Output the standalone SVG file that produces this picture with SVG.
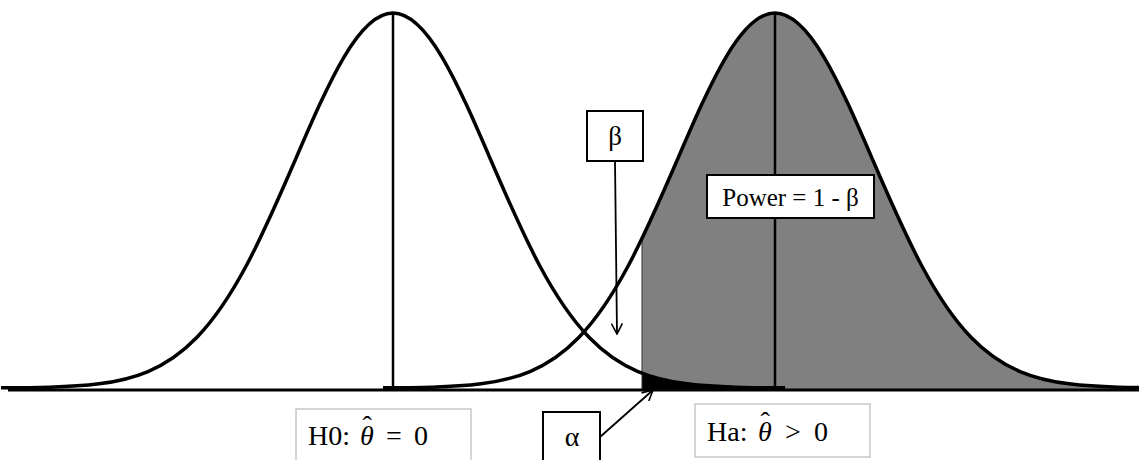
<svg xmlns="http://www.w3.org/2000/svg" xmlns:xlink="http://www.w3.org/1999/xlink" width="1139" height="460" viewBox="0 0 1139 460">
<style>
.curve{fill:none;stroke:#000;stroke-width:3.5;stroke-linejoin:round}
.axis{stroke:#000;stroke-width:3;fill:none}
.vline{stroke:#000;stroke-width:2.5}
.box{fill:#fff;stroke:#000;stroke-width:2}
.lbox{fill:#fff;stroke:#c8c8c8;stroke-width:1.5}
.t{font-family:"Liberation Serif","Times New Roman",serif;fill:#000}
.conn{stroke:#000;stroke-width:1.8;fill:none}
</style>
<defs>
<path id="gauss" d="M-392 387.87 C-375.67 387.79 -359.33 387.66 -343 387.18 C-326.67 386.70 -310.33 385.91 -294 383.83 C-277.67 381.75 -261.33 378.39 -245 371.52 C-228.67 364.66 -212.33 354.17 -196 337.25 C-179.67 320.33 -163.33 296.70 -147 266.26 C-130.67 235.82 -114.33 198.46 -98 160.55 C-81.67 122.64 -65.33 84.64 -49 57.06 C-32.67 29.48 -16.33 13 0 13 C16.33 13 32.67 29.48 49 57.06 C65.33 84.64 81.67 122.64 98 160.55 C114.33 198.46 130.67 235.82 147 266.26 C163.33 296.70 179.67 320.33 196 337.25 C212.33 354.17 228.67 364.66 245 371.52 C261.33 378.39 277.67 381.75 294 383.83 C310.33 385.91 326.67 386.70 343 387.18 C359.33 387.66 375.67 387.79 392 387.87"/>
<path id="gaussFill" d="M-392 387.87 C-375.67 387.79 -359.33 387.66 -343 387.18 C-326.67 386.70 -310.33 385.91 -294 383.83 C-277.67 381.75 -261.33 378.39 -245 371.52 C-228.67 364.66 -212.33 354.17 -196 337.25 C-179.67 320.33 -163.33 296.70 -147 266.26 C-130.67 235.82 -114.33 198.46 -98 160.55 C-81.67 122.64 -65.33 84.64 -49 57.06 C-32.67 29.48 -16.33 13 0 13 C16.33 13 32.67 29.48 49 57.06 C65.33 84.64 81.67 122.64 98 160.55 C114.33 198.46 130.67 235.82 147 266.26 C163.33 296.70 179.67 320.33 196 337.25 C212.33 354.17 228.67 364.66 245 371.52 C261.33 378.39 277.67 381.75 294 383.83 C310.33 385.91 326.67 386.70 343 387.18 C359.33 387.66 375.67 387.79 392 387.87 L392 390 L-392 390 Z"/>
<clipPath id="rightOfCrit"><rect x="642" y="0" width="520" height="392"/></clipPath>
<marker id="arr" viewBox="0 0 12 12" refX="11" refY="6" markerWidth="12" markerHeight="12" markerUnits="userSpaceOnUse" orient="auto">
<path d="M0.5,0.5 L11,6 L0.5,11.5" fill="none" stroke="#000" stroke-width="1.6"/>
</marker>
</defs>

<g id="power-area" clip-path="url(#rightOfCrit)">
<use xlink:href="#gaussFill" transform="translate(775,0)" fill="#808080"/>
</g>
<g id="alpha-area" clip-path="url(#rightOfCrit)">
<use xlink:href="#gaussFill" transform="translate(393,0)" fill="#000"/>
</g>
<line x1="642" y1="240" x2="642" y2="389" stroke="#333" stroke-width="1"/>

<g id="h0-curve">
<use xlink:href="#gauss" transform="translate(393,0)" class="curve"/>
<line class="vline" x1="393" y1="13" x2="393" y2="389"/>
</g>
<g id="ha-curve">
<use xlink:href="#gauss" transform="translate(775,0)" class="curve"/>
<line class="vline" x1="775" y1="13" x2="775" y2="389"/>
</g>
<line id="axis" class="axis" x1="8" y1="390" x2="1139" y2="390"/>

<g id="connectors">
<line class="conn" x1="615" y1="161" x2="617" y2="334" marker-end="url(#arr)"/>
<line class="conn" x1="600" y1="437" x2="653" y2="390" marker-end="url(#arr)"/>
</g>

<g id="power-label">
<rect class="box" x="707" y="175" width="167" height="43"/>
<text class="t" x="790.5" y="205.5" font-size="25" text-anchor="middle">Power = 1 - β</text>
</g>
<g id="beta-label">
<rect class="box" x="587" y="111" width="56" height="50"/>
<text class="t" x="615" y="145" font-size="27" text-anchor="middle">β</text>
</g>
<g id="alpha-label">
<rect class="box" x="543" y="412" width="57" height="60"/>
<text class="t" x="572" y="446" font-size="28" text-anchor="middle">α</text>
</g>
<g id="h0-label">
<rect class="lbox" x="296" y="409" width="175" height="60"/>
<text class="t" font-size="28" y="445"><tspan x="308">H0:</tspan><tspan x="360" font-style="italic">θ</tspan><tspan x="362.5" y="435">ˆ</tspan><tspan x="386" y="445">=</tspan><tspan x="414">0</tspan></text>
</g>
<g id="ha-label">
<rect class="lbox" x="695" y="404" width="175" height="53"/>
<text class="t" font-size="28" y="441"><tspan x="707">Ha:</tspan><tspan x="758" font-style="italic">θ</tspan><tspan x="760.5" y="431">ˆ</tspan><tspan x="785" y="441">&gt;</tspan><tspan x="814">0</tspan></text>
</g>
</svg>
